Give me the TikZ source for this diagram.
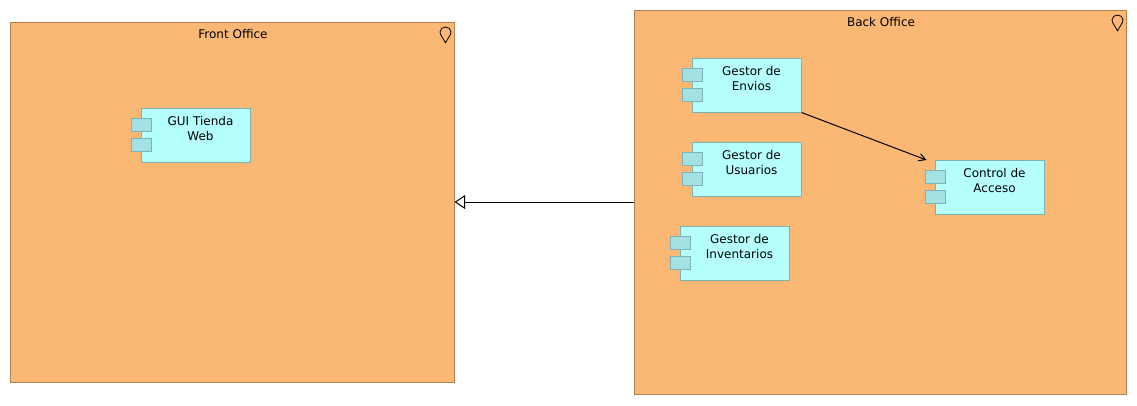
\documentclass[tikz,border=0pt]{standalone}
\usepackage{fontspec}
\setmainfont{DejaVu Sans}
\usepackage{xcolor}
\usetikzlibrary{calc, arrows.meta, positioning}
\definecolor{officefill}{HTML}{FBB875}
\definecolor{officeline}{HTML}{B08050}
\definecolor{compfill}{HTML}{B5FFFF}
\definecolor{compline}{HTML}{7DB2B5}
\definecolor{tabfill}{HTML}{A3E2E2}
\tikzset{
  office/.style={rectangle, draw=officeline, fill=officefill, line width=0.75pt, inner sep=0pt},
  comp/.style={rectangle, draw=compline, fill=compfill, line width=0.75pt, inner sep=0pt, minimum width=81.75pt, minimum height=40.5pt},
  comptab/.style={rectangle, draw=compline, fill=tabfill, line width=0.75pt, inner sep=0pt, minimum width=15pt, minimum height=9.75pt},
  txt/.style={align=center, font=\fontsize{9}{11.25}\selectfont, inner sep=0pt},
  pin/.style={draw=black, line width=0.6pt, line join=round},
}
\newcommand{\pinmark}[1]{\draw[pin] ($(#1)+(0,8)$) .. controls ($(#1)+(-2,3.5)$) and ($(#1)+(-5.5,0)$) .. ($(#1)+(-5.5,-3)$) .. controls ($(#1)+(-5.5,-6)$) and ($(#1)+(-3,-8)$) .. ($(#1)+(0,-8)$) .. controls ($(#1)+(3,-8)$) and ($(#1)+(5.5,-6)$) .. ($(#1)+(5.5,-3)$) .. controls ($(#1)+(5.5,0)$) and ($(#1)+(2,3.5)$) .. cycle;}

\begin{document}
\begin{tikzpicture}[x=0.75pt, y=-0.75pt]
    \useasboundingbox (0,0) rectangle (1137,405);
    \node[office, minimum width=333pt, minimum height=270pt] (front) at (232,202) {};
    \node[office, minimum width=369pt, minimum height=288pt] (back) at (880,202) {};
    \node[txt] (fronttitle) at (233,34.5) {Front Office};
    \node[txt] (backtitle) at (881,22.5) {Back Office};
    \coordinate (frontpin) at (445.5,35);
    \coordinate (backpin) at (1117.5,23);
    \pinmark{frontpin}
    \pinmark{backpin}

    \node[comp] (gui) at (195.5,135) {};
    \node[comptab] (gui1) at (141.5,124.5) {};
    \node[comptab] (gui2) at (141.5,144.5) {};
    \node[txt] (guitext) at (200.5,128.5) {GUI Tienda\\Web};

    \node[comp] (envios) at (746.5,85) {};
    \node[comptab] (envios1) at (692.5,74.5) {};
    \node[comptab] (envios2) at (692.5,94.5) {};
    \node[txt] (enviostext) at (751.5,78.5) {Gestor de\\Envios};

    \node[comp] (usuarios) at (746.5,169) {};
    \node[comptab] (usuarios1) at (692.5,158.5) {};
    \node[comptab] (usuarios2) at (692.5,178.5) {};
    \node[txt] (usuariostext) at (751.5,162.5) {Gestor de\\Usuarios};

    \node[comp] (inventarios) at (734.5,253) {};
    \node[comptab] (inventarios1) at (680.5,242.5) {};
    \node[comptab] (inventarios2) at (680.5,262.5) {};
    \node[txt] (inventariostext) at (739.5,246.5) {Gestor de\\Inventarios};

    \node[comp] (control) at (989.5,187) {};
    \node[comptab] (control1) at (935.5,176.5) {};
    \node[comptab] (control2) at (935.5,196.5) {};
    \node[txt] (controltext) at (994.5,180.5) {Control de\\Acceso};

    \coordinate (controlin) at (926.5,160);
    \draw[-{Straight Barb[length=5pt, width=5.5pt]}, line width=0.75pt] (envios.south east) -- (controlin);
    \draw[-{Triangle[open, length=8pt, width=10.5pt, fill=white]}, line width=0.75pt] (back.west) -- (front.east);
\end{tikzpicture}
\end{document}
